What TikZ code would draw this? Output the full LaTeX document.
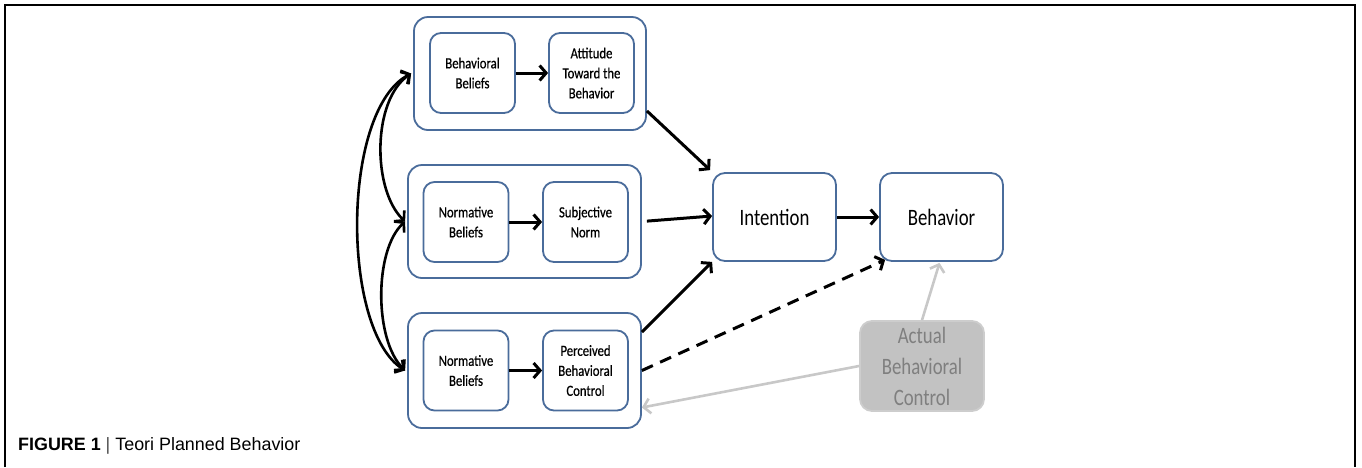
\documentclass[tikz,border=0pt]{standalone}
\usepackage{fontspec}
\setmainfont{Liberation Sans}
\newfontfamily\boxfont[FakeStretch=0.8]{Carlito}
\newfontfamily\smallboxfont[FakeStretch=0.82,FakeBold=0.6]{Carlito}
\usetikzlibrary{arrows.meta}
\definecolor{boxblue}{HTML}{4A6C9B}
\definecolor{actfill}{HTML}{C2C2C2}
\definecolor{actborder}{HTML}{CDCDCD}
\definecolor{acttext}{HTML}{7F7F7F}
\definecolor{grayarrow}{HTML}{C8C8C8}
\begin{document}
\begin{tikzpicture}[x=1pt,y=-1pt,
  outerbox/.style={draw=boxblue, line width=1.8pt, rounded corners=14pt, inner sep=0pt, fill=white},
  innerbox/.style={draw=boxblue, line width=1.8pt, rounded corners=11pt, minimum width=85pt, minimum height=80pt, inner sep=0pt, align=center, font=\smallboxfont\fontsize{15.5}{20}\selectfont},
  bigbox/.style={draw=boxblue, line width=1.8pt, rounded corners=12pt, minimum width=123pt, minimum height=88pt, inner sep=0pt, align=center, font=\boxfont\fontsize{23.5}{26}\selectfont},
  actbox/.style={draw=actborder, fill=actfill, line width=1.8pt, rounded corners=12pt, minimum width=124pt, minimum height=90pt, inner sep=0pt, align=center, text=acttext, font=\boxfont\fontsize{23.5}{31}\selectfont},
  arr/.style={line width=3pt, -{Straight Barb[length=6.5pt,width=15pt]}},
  dasharr/.style={arr, dash pattern=on 12pt off 8pt},
  grayarr/.style={draw=grayarrow, line width=2.6pt, -{Straight Barb[length=6.5pt,width=15pt]}},
  curvearr/.style={line width=2.6pt, {Straight Barb[length=6.5pt,width=15pt]}-{Straight Barb[length=6.5pt,width=15pt]}}
]
\useasboundingbox (0,0) rectangle (1362,467);
\draw[line width=2pt] (5,467) -- (5,5) -- (1355,5) -- (1355,467);

% outer group boxes
\node[outerbox, minimum width=232pt, minimum height=113pt] (top) at (530,73.5) {};
\node[outerbox, minimum width=233pt, minimum height=113pt] (mid) at (524.5,221.5) {};
\node[outerbox, minimum width=233pt, minimum height=115pt] (bot) at (524.5,370.5) {};

% inner boxes
\node[innerbox] (bb) at (472.5,73) {Behavioral\\Beliefs};
\node[innerbox] (att) at (591.5,73) {Attitude\\Toward the\\Behavior};
\node[innerbox] (nb1) at (466,222) {Normative\\Beliefs};
\node[innerbox] (sn) at (585.5,222) {Subjective\\Norm};
\node[innerbox] (nb2) at (466,370.5) {Normative\\Beliefs};
\node[innerbox] (pbc) at (585.5,370.5) {Perceived\\Behavioral\\Control};

\node[bigbox] (int) at (774.5,217) {Intention};
\node[bigbox] (beh) at (941.5,217) {Behavior};
\node[actbox] (act) at (922,366) {Actual\\Behavioral\\Control};

% inner arrows
\draw[arr] (bb.east) -- (att.west);
\draw[arr] (nb1.east) -- (sn.west);
\draw[arr] (nb2.east) -- (pbc.west);

% to intention
\draw[arr] ([yshift=20pt]top.south east) -- ([xshift=-2pt,yshift=2pt]int.north west);
\draw[arr, shorten <=5pt] (mid.east) -- ([yshift=1pt]int.west);
\draw[arr] ([yshift=-20pt]bot.north east) -- (int.south west);
\draw[arr] (int.east) -- (beh.west);
\draw[dasharr] (bot.east) -- ([xshift=6pt,yshift=2pt]beh.south west);

% gray arrows
\draw[grayarr] (act.north) -- ([xshift=-2pt,yshift=-1pt]beh.south);
\draw[grayarr] ([yshift=0pt]act.west) -- ([yshift=-37pt]bot.east);

% curved double arrows
\draw[curvearr] ([xshift=-2pt]top.west) .. controls (372,100) and (372,190) .. ([xshift=-2pt]mid.west);
\draw[curvearr] ([xshift=-2pt]mid.west) .. controls (374,250) and (374,340) .. ([xshift=-2pt]bot.west);
\draw[curvearr] ([xshift=-2pt]top.west) .. controls (341,110) and (341,330) .. ([xshift=-2pt]bot.west);

% caption
\node[anchor=base west, inner sep=0pt, font=\fontsize{17.9}{20}\selectfont] (cap) at (18,450) {\textbf{FIGURE 1} {\color{black!70}|} Teori Planned Behavior};
\end{tikzpicture}
\end{document}
